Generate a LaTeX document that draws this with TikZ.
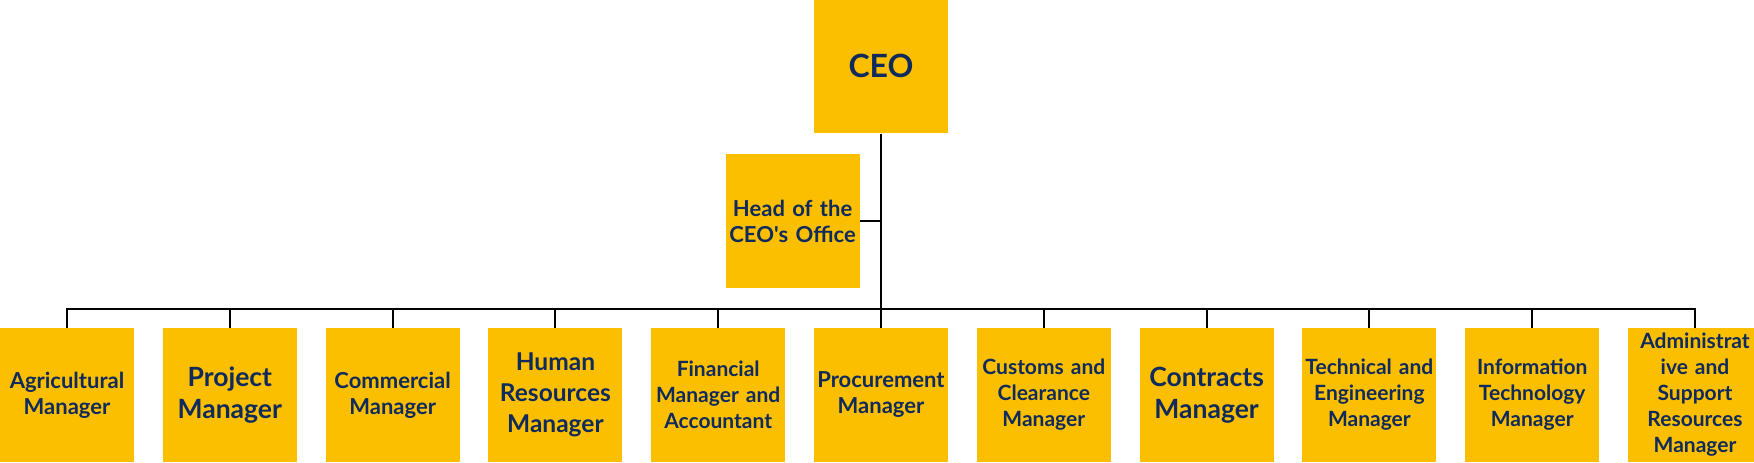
\documentclass[tikz,border=0pt]{standalone}
\usepackage{fontspec}
\setmainfont{Lato}
\usetikzlibrary{positioning}
\definecolor{boxgold}{HTML}{FCBF00}
\definecolor{navytext}{HTML}{0F2A5C}

\begin{document}
\begin{tikzpicture}
        [role/.style={rectangle, fill=boxgold, text=navytext, minimum width=67pt, minimum height=67pt, text width=67pt, inner sep=0pt, align=center},
        txtnorm/.style={font=\bfseries\fontsize{11}{13}\selectfont},
        txtfine/.style={font=\bfseries\fontsize{10.5}{13}\selectfont},
        txthr/.style={font=\bfseries\fontsize{12.25}{15.5}\selectfont},
        txtbig/.style={font=\bfseries\fontsize{13.25}{16.3}\selectfont},
        link/.style={draw=black, line width=1pt}]
        \useasboundingbox (0,0) rectangle (877pt,-231pt);
        \node[role, txtnorm] (agri) at (33.5pt,-197.5pt) {Agricultural\\Manager};
        \node[role, txtbig, right=14pt of agri] (proj) {Project\\Manager};
        \node[role, txtnorm, right=14pt of proj] (comm) {Commercial\\Manager};
        \node[role, txthr, right=14pt of comm] (hr) {Human\\Resources\\Manager};
        \node[role, txtfine, right=14pt of hr] (fin) {Financial\\Manager and\\Accountant};
        \node[role, txtnorm, right=14pt of fin] (proc) {Procurement\\Manager};
        \node[role, txtfine, right=14pt of proc] (cust) {Customs and\\Clearance\\Manager};
        \node[role, txtbig, right=14pt of cust] (contr) {Contracts\\Manager};
        \node[role, txtfine, right=14pt of contr] (tech) {Technical and\\Engineering\\Manager};
        \node[role, txtfine, right=14pt of tech] (it) {Information\\Technology\\Manager};
        \node[role, txtfine, right=14pt of it] (admin) {Administrat\\ive and\\Support\\Resources\\Manager};
        \node[role, font=\bfseries\fontsize{16}{19}\selectfont, above=97pt of proc] (ceo) {CEO};
        \node[role, txtnorm, below left=10pt and 10.5pt of ceo.south] (head) {Head of the\\CEO\textquotesingle s Office};
        \coordinate[above=9.5pt of proc] (bus);
        \draw[link] (ceo) -- (proc);
        \draw[link] (head) -- (head -| ceo);
        \draw[link] (agri) |- (bus) -| (admin);
        \foreach \n in {proj,comm,hr,fin,cust,contr,tech,it}
            \draw[link] (\n) -- (\n |- bus);
    \end{tikzpicture}
\end{document}
